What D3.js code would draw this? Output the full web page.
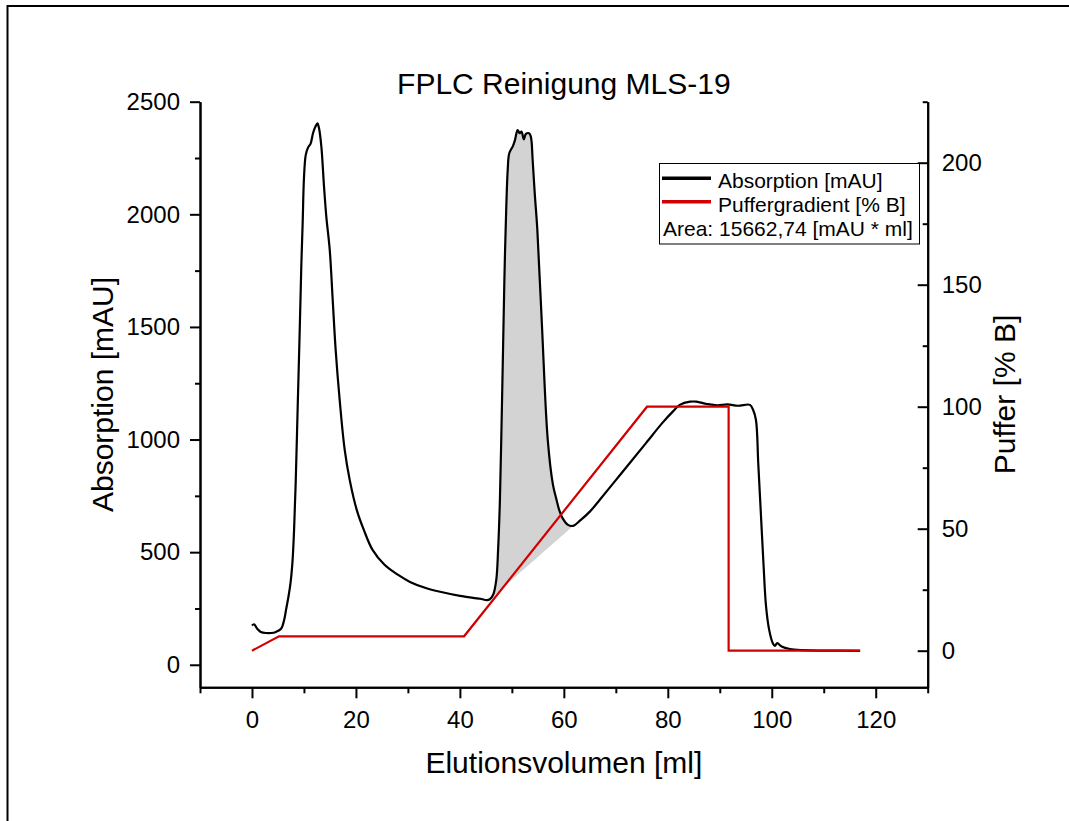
<!DOCTYPE html>
<html><head><meta charset="utf-8">
<script src="https://cdn.jsdelivr.net/npm/d3@7"></script>
<style>body{margin:0;background:#fff}svg{display:block}text{font-family:"Liberation Sans",Arial,sans-serif;fill:#000}</style>
</head><body><svg id="c" width="1069" height="821"></svg>
<script>
// ---- data ----
const absVol = [0,0.4,1.0,1.7,2.7,3.7,4.6,5.6,6.2,6.6,7.0,7.4,7.8,8.1,8.4,8.8,9.2,9.5,9.75,10.0,10.34,10.78,11.3,11.74,12.26,12.6,12.9,13.35,13.86,14.3,14.96,15.53,16.1,16.87,17.84,18.8,20.15,21.5,23.2,25.5,28.05,30.4,33.3,36.2,40.0,43.9,45.2,45.75,46.4,47.0,47.35,47.7,48.0,48.3,48.55,48.8,49.2,49.5,50.2,50.6,51.1,51.5,51.85,52.3,52.7,53.3,53.65,54.0,54.4,54.9,55.8,56.9,57.9,58.6,59.1,59.75,60.8,61.8,63.1,65.0,67.0,70.0,73.0,76.0,79.0,81.0,82.3,84.3,85.5,87.5,89.5,91.5,93.5,95.8,96.4,96.96,97.4,97.9,98.4,98.9,99.5,100.2,100.6,101.06,101.9,103.5,106,110,117];
const absVal = [174,180,160,146,141,141,146,160,200,250,300,360,460,600,800,1150,1500,1780,1960,2160,2263,2296,2315,2360,2392,2404,2382,2300,2123,1990,1842,1620,1398,1176,954,821,688,600,510,444,400,368,342,324,306,293,287,291,311,377,510,732,1050,1400,1700,1931,2197,2271,2303,2330,2374,2360,2367,2333,2357,2360,2345,2241,2093,1931,1500,1000,800,732,688,651,621,617,640,680,735,820,905,990,1075,1125,1154,1168,1168,1158,1152,1156,1150,1154,1132,1087,895,673,451,259,155,96,84,96,81,70,65,63,62];
const gradVol = [0,5.2,40.8,76.0,91.7,91.7,117];
const gradVal = [0,5.9,5.9,100,100,0,0];
const areaStart = 45.75, areaEnd = 61.8;
const xTicks = [0,20,40,60,80,100,120];
const xMinor = [-10,10,30,50,70,90,110,130];
const yLTicks = [0,500,1000,1500,2000,2500];
const yLMinor = [250,750,1250,1750,2250];
const yRTicks = [0,50,100,150,200];
const yRMinor = [25,75,125,175,225];
const title = "FPLC Reinigung MLS-19";
const xLabel = "Elutionsvolumen [ml]";
const yLLabel = "Absorption [mAU]";
const yRLabel = "Puffer [% B]";
const legendItems = ["Absorption [mAU]","Puffergradient [% B]"];
const areaText = "Area: 15662,74 [mAU * ml]";

// ---- layout ----
const L = 200, R = 927.7, T = 101.7, B = 687.3;
const svg = d3.select("#c");
svg.append("rect").attr("x",7.5).attr("y",6).attr("width",1100).attr("height",900)
  .attr("fill","none").attr("stroke","#000").attr("stroke-width",2);

const x = d3.scaleLinear().domain([-10,130]).range([L,R]);
const yL = d3.scaleLinear().domain([-100,2500]).range([B,T]);
const yR = d3.scaleLinear().domain([-15,225]).range([B,T]);
const fmt = d3.format("d");

const abs = absVol.map((v,i)=>[v,absVal[i]]);
const grad = gradVol.map((v,i)=>[v,gradVal[i]]);

// shaded area
const sVal = abs.find(d=>d[0]===areaStart)[1];
const eVal = abs.find(d=>d[0]===areaEnd)[1];
const base = d3.scaleLinear().domain([areaStart,areaEnd]).range([sVal,eVal]);
const seg = abs.filter(d=>d[0]>=areaStart && d[0]<=areaEnd);
svg.append("path").datum(seg)
  .attr("d", d3.area().x(d=>x(d[0])).y1(d=>yL(d[1])).y0(d=>yL(base(d[0]))).curve(d3.curveCatmullRom))
  .attr("fill","#d3d3d3");

// lines
svg.append("path").datum(abs)
  .attr("d", d3.line().x(d=>x(d[0])).y(d=>yL(d[1])).curve(d3.curveCatmullRom))
  .attr("fill","none").attr("stroke","#000").attr("stroke-width",2.2).attr("stroke-linejoin","round");
svg.append("path").datum(grad)
  .attr("d", d3.line().x(d=>x(d[0])).y(d=>yR(d[1])))
  .attr("fill","none").attr("stroke","#d00000").attr("stroke-width",2.2);

// axes
function style(g){
  g.selectAll("path,line").attr("stroke","#000").attr("stroke-width",2);
  g.selectAll("text").style("font-size","24px").style("font-family","'Liberation Sans',Arial,sans-serif");
}
svg.append("g").attr("transform",`translate(0,${B})`)
  .call(d3.axisBottom(x).tickValues(xTicks).tickFormat(fmt).tickSize(11).tickSizeOuter(0).tickPadding(12.5)).call(style);
svg.append("g").attr("transform",`translate(0,${B})`)
  .call(d3.axisBottom(x).tickValues(xMinor).tickSize(6).tickSizeOuter(0).tickFormat("")).call(style);
svg.append("g").attr("transform",`translate(${L},0)`)
  .call(d3.axisLeft(yL).tickValues(yLTicks).tickFormat(fmt).tickSize(10).tickSizeOuter(0).tickPadding(10)).call(style);
svg.append("g").attr("transform",`translate(${L},0)`)
  .call(d3.axisLeft(yL).tickValues(yLMinor).tickSize(5).tickSizeOuter(0).tickFormat("")).call(style);
svg.append("g").attr("transform",`translate(${R},0)`)
  .call(d3.axisRight(yR).tickValues(yRTicks).tickFormat(fmt).tickSize(-10).tickSizeOuter(0).tickPadding(14)).call(style);
svg.append("g").attr("transform",`translate(${R},0)`)
  .call(d3.axisRight(yR).tickValues(yRMinor).tickSize(-5).tickSizeOuter(0).tickFormat("")).call(style);

// titles
svg.append("text").attr("x",(L+R)/2).attr("y",94.3).attr("text-anchor","middle").style("font-size","30px").text(title);
svg.append("text").attr("x",(L+R)/2).attr("y",773).attr("text-anchor","middle").style("font-size","30px").text(xLabel);
svg.append("text").attr("transform",`translate(113,${(T+B)/2}) rotate(-90)`).attr("text-anchor","middle").style("font-size","30px").text(yLLabel);
svg.append("text").attr("transform",`translate(1015,${(T+B)/2}) rotate(-90)`).attr("text-anchor","middle").style("font-size","30px").text(yRLabel);

// legend
const lg = svg.append("g");
lg.append("rect").attr("x",659.5).attr("y",163.5).attr("width",260).attr("height",80.5)
  .attr("fill","#fff").attr("stroke","#000").attr("stroke-width",1);
const cols = ["#000","#d00000"];
legendItems.forEach((t,i)=>{
  const yy = 178.3 + i*23.4;
  lg.append("line").attr("x1",662).attr("x2",711).attr("y1",yy).attr("y2",yy).attr("stroke",cols[i]).attr("stroke-width",3.5);
  lg.append("text").attr("x",718).attr("y",yy+9.8).style("font-size","21px").text(t);
});
lg.append("text").attr("x",663).attr("y",236).style("font-size","21px").text(areaText);
</script></body></html>
